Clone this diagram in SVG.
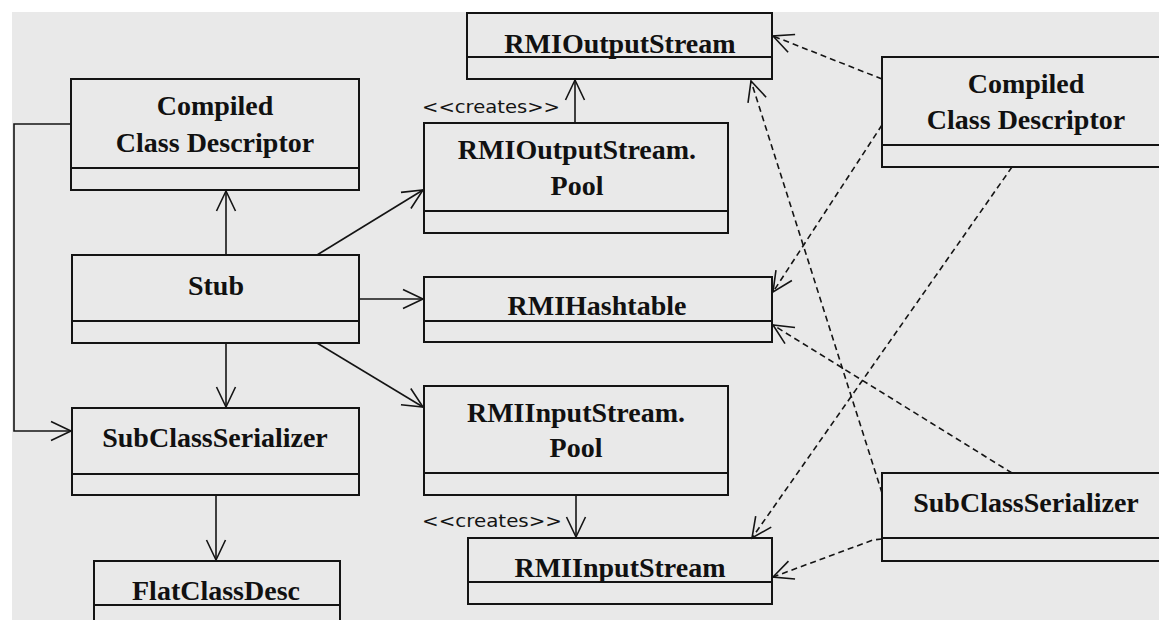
<svg xmlns="http://www.w3.org/2000/svg" width="1159" height="620" viewBox="0 0 1159 620">
  <style>
    .box { fill: none; stroke: #141414; stroke-width: 2; }
    .name { font-family: "Liberation Serif", "DejaVu Serif", serif; font-weight: bold; font-size: 28px; fill: #111111; text-anchor: middle; }
    .stereo { font-family: "DejaVu Sans", "Liberation Sans", sans-serif; font-size: 17px; fill: #141414; }
    .assoc { fill: none; stroke: #141414; stroke-width: 1.6; marker-end: url(#open); }
    .dep { fill: none; stroke: #141414; stroke-width: 1.6; stroke-dasharray: 6 4; marker-end: url(#open); }
  </style>
  <defs>
    <marker id="open" markerUnits="userSpaceOnUse" markerWidth="26" markerHeight="26" viewBox="-23 -13 26 26" refX="0" refY="0" orient="auto">
      <path d="M-20,-9.5 L0,0 L-20,9.5" fill="none" stroke="#141414" stroke-width="1.6"/>
    </marker>
  </defs>

  <!-- page -->
  <rect x="0" y="0" width="1159" height="620" fill="#ffffff"/>
  <rect x="12" y="12" width="1147" height="608" fill="#e9e9e9"/>

  <!-- class boxes -->
  <g id="compiled-class-descriptor-left">
    <rect class="box" x="71" y="79" width="288" height="111"/>
    <line class="box" x1="71" y1="168" x2="359" y2="168"/>
    <text class="name" x="215" y="115">Compiled</text>
    <text class="name" x="215" y="152">Class Descriptor</text>
  </g>

  <g id="stub">
    <rect class="box" x="72" y="255" width="287" height="88"/>
    <line class="box" x1="72" y1="321" x2="359" y2="321"/>
    <text class="name" x="216" y="295">Stub</text>
  </g>

  <g id="subclass-serializer-left">
    <rect class="box" x="72" y="408" width="287" height="87"/>
    <line class="box" x1="72" y1="474" x2="359" y2="474"/>
    <text class="name" x="215" y="447">SubClassSerializer</text>
  </g>

  <g id="flat-class-desc">
    <rect class="box" x="94" y="561" width="246" height="70"/>
    <line class="box" x1="94" y1="605" x2="340" y2="605"/>
    <text class="name" x="216" y="600">FlatClassDesc</text>
  </g>

  <g id="rmi-output-stream">
    <rect class="box" x="467" y="13" width="305" height="66"/>
    <line class="box" x1="467" y1="57" x2="772" y2="57"/>
    <text class="name" x="620" y="53">RMIOutputStream</text>
  </g>

  <g id="rmi-output-stream-pool">
    <rect class="box" x="424" y="123" width="304" height="110"/>
    <line class="box" x1="424" y1="211" x2="728" y2="211"/>
    <text class="name" x="577" y="159">RMIOutputStream.</text>
    <text class="name" x="577" y="195">Pool</text>
  </g>

  <g id="rmi-hashtable">
    <rect class="box" x="424" y="277" width="348" height="65"/>
    <line class="box" x1="424" y1="321" x2="772" y2="321"/>
    <text class="name" x="597" y="315">RMIHashtable</text>
  </g>

  <g id="rmi-input-stream-pool">
    <rect class="box" x="424" y="386" width="304" height="109"/>
    <line class="box" x1="424" y1="473" x2="728" y2="473"/>
    <text class="name" x="576" y="422">RMIInputStream.</text>
    <text class="name" x="576" y="457">Pool</text>
  </g>

  <g id="rmi-input-stream">
    <rect class="box" x="468" y="538" width="304" height="66"/>
    <line class="box" x1="468" y1="582" x2="772" y2="582"/>
    <text class="name" x="620" y="577">RMIInputStream</text>
  </g>

  <g id="compiled-class-descriptor-right">
    <rect class="box" x="882" y="57" width="300" height="110"/>
    <line class="box" x1="882" y1="145" x2="1182" y2="145"/>
    <text class="name" x="1026" y="93">Compiled</text>
    <text class="name" x="1026" y="129">Class Descriptor</text>
  </g>

  <g id="subclass-serializer-right">
    <rect class="box" x="882" y="473" width="300" height="88"/>
    <line class="box" x1="882" y1="538" x2="1182" y2="538"/>
    <text class="name" x="1026" y="512">SubClassSerializer</text>
  </g>

  <!-- connectors -->
  <g id="connectors">
    <!-- associations -->
    <path class="assoc" d="M226,255 V191"/>
    <path class="assoc" d="M71,124 H14 V431 H71"/>
    <path class="assoc" d="M226,343 V407"/>
    <path class="assoc" d="M216,495 V560"/>
    <path class="assoc" d="M317,255 L423,190"/>
    <path class="assoc" d="M359,299 H423"/>
    <path class="assoc" d="M317,343 L423,407"/>
    <path class="assoc" d="M575,123 V80"/>
    <path class="assoc" d="M576,495 V537"/>

    <!-- dependencies -->
    <path class="dep" d="M882,79 L773,36"/>
    <path class="dep" d="M882,125 L773,292"/>
    <path class="dep" d="M1012,167 L752,538"/>
    <path class="dep" d="M882,493 L751,81"/>
    <path class="dep" d="M1012,473 L773,325"/>
    <path class="dep" d="M882,539 L873,540 L773,577"/>

    <!-- stereotype labels -->
    <text class="stereo" x="422" y="113" textLength="138" lengthAdjust="spacingAndGlyphs">&lt;&lt;creates&gt;&gt;</text>
    <text class="stereo" x="422" y="527" textLength="140" lengthAdjust="spacingAndGlyphs">&lt;&lt;creates&gt;&gt;</text>
  </g>
</svg>
